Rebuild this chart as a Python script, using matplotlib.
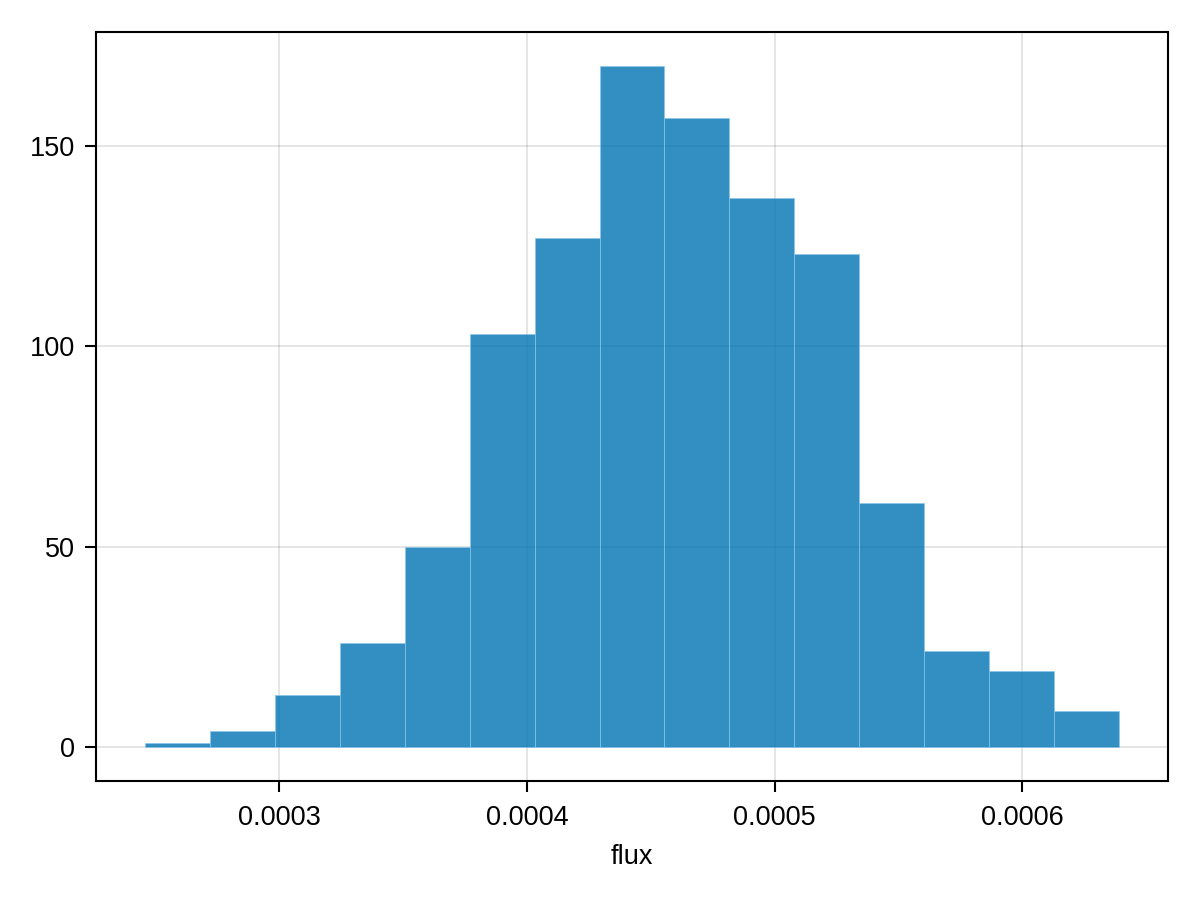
import numpy as np
import matplotlib.pyplot as plt

# histogram of flux, 15 bins
edge_lo = 0.0002456
edge_hi = 0.0006391
counts = [1, 4, 13, 26, 50, 103, 127, 170, 157, 137, 123, 61, 24, 19, 9]
xticks = [0.0003, 0.0004, 0.0005, 0.0006]
xticklabels = ['0.0003', '0.0004', '0.0005', '0.0006']
yticks = [0, 50, 100, 150]

plt.rcParams['font.family'] = ['Liberation Sans', 'DejaVu Sans']

edges = np.linspace(edge_lo, edge_hi, len(counts) + 1)
width = edges[1] - edges[0]

fig = plt.figure(figsize=(12, 9), dpi=100)
ax = fig.add_axes([96/1200, 119/900, 1072/1200, 749/900])

ax.bar(edges[:-1], counts, width=width, align='edge', color='#0072B2', alpha=0.8,
       edgecolor=(0.55, 0.78, 0.92, 0.6), linewidth=0.6, zorder=2)

span = edge_hi - edge_lo
ax.set_xlim(edge_lo - 0.05*span, edge_hi + 0.05*span)
ax.set_ylim(-0.05*max(counts), 1.05*max(counts))
ax.set_xticks(xticks)
ax.set_xticklabels(xticklabels)
ax.set_yticks(yticks)
ax.grid(True, color='black', alpha=0.12, linewidth=1.2, zorder=0)
ax.set_axisbelow(True)
ax.tick_params(direction='out', length=8, width=1.5, labelsize=19.5)
ax.tick_params(axis='x', pad=9)
ax.tick_params(axis='y', pad=7)
for s in ax.spines.values():
    s.set_linewidth(1.5)
ax.set_xlabel('flux', fontsize=19.5, labelpad=10)

fig.savefig('out.png', dpi=100)
